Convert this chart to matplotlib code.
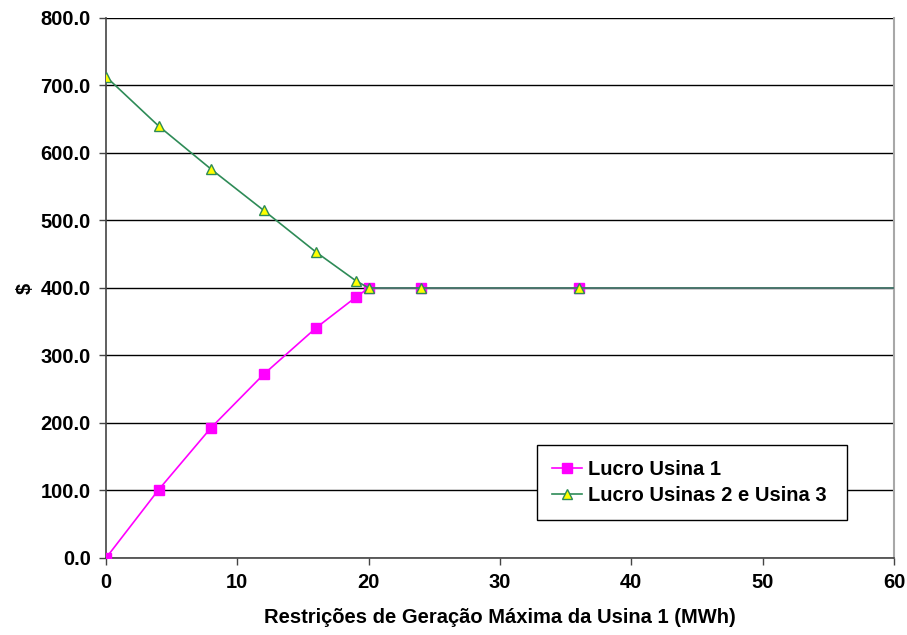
import numpy as np
import matplotlib as mpl

mpl.use('agg')

import matplotlib.pyplot as plt

plt.rcParams['font.family'] = ['Liberation Sans', 'DejaVu Sans']
plt.rcParams['font.weight'] = 'bold'

restricao = [0, 4, 8, 12, 16, 19, 20, 24, 36, 60]
lucro_usina1 = [0.0, 101.0, 193.0, 272.0, 341.0, 386.0, 400.0, 400.0, 400.0, 400.0]
lucro_usinas23 = [713.0, 640.0, 576.0, 515.0, 453.0, 411.0, 400.0, 400.0, 400.0, 400.0]

fig = plt.figure(figsize=(9.07, 6.35), dpi=100)
ax = fig.add_axes([0.1169, 0.1213, 0.8688, 0.8504])

marks = list(range(9))
ax.plot(restricao, lucro_usina1, color='#FF00FF', linewidth=1.2, marker='s',
        markersize=7, markerfacecolor='#FF00FF', markeredgecolor='#FF00FF',
        markevery=marks, label='Lucro Usina 1', zorder=3)
ax.plot(restricao, lucro_usinas23, color='#2E8B57', linewidth=1.2, marker='^',
        markersize=7, markerfacecolor='#FFFF00', markeredgecolor='#2E8B57',
        markevery=marks, label='Lucro Usinas 2 e Usina 3', zorder=4)

ax.set_xlim(0, 60)
ax.set_ylim(0, 800)
ax.set_xticks(np.arange(0, 61, 10))
ax.set_yticks(np.arange(0, 801, 100))
ax.set_yticklabels(['%.1f' % v for v in np.arange(0, 801, 100)])
ax.yaxis.grid(True, color='black', linewidth=1)
ax.set_axisbelow(True)

for s in ['left', 'bottom']:
    ax.spines[s].set_color('#444444')
    ax.spines[s].set_linewidth(1.2)
ax.spines['right'].set_color('#A8A8A8')
ax.spines['right'].set_linewidth(1.5)
ax.spines['top'].set_visible(False)

ax.tick_params(axis='both', labelsize=14.5, length=5, width=1, color='#444444', pad=6)
for lab in ax.get_xticklabels() + ax.get_yticklabels():
    lab.set_fontweight('bold')

ax.set_xlabel('Restrições de Geração Máxima da Usina 1 (MWh)', fontsize=14.5,
              fontweight='bold', labelpad=11)
ax.set_ylabel('$', fontsize=14.5, fontweight='bold', labelpad=4)

leg = ax.legend(loc='lower left', bbox_to_anchor=(0.547, 0.0704, 0.393, 0.135),
                mode='expand', prop={'size': 14.5, 'weight': 'bold'},
                frameon=True, fancybox=False, handletextpad=0.3,
                handlelength=1.5, borderpad=0.75, labelspacing=0.35,
                borderaxespad=0)
leg.get_frame().set_edgecolor('black')
leg.get_frame().set_linewidth(1)
leg.get_frame().set_alpha(1)

fig.savefig('out.png', dpi=100)
